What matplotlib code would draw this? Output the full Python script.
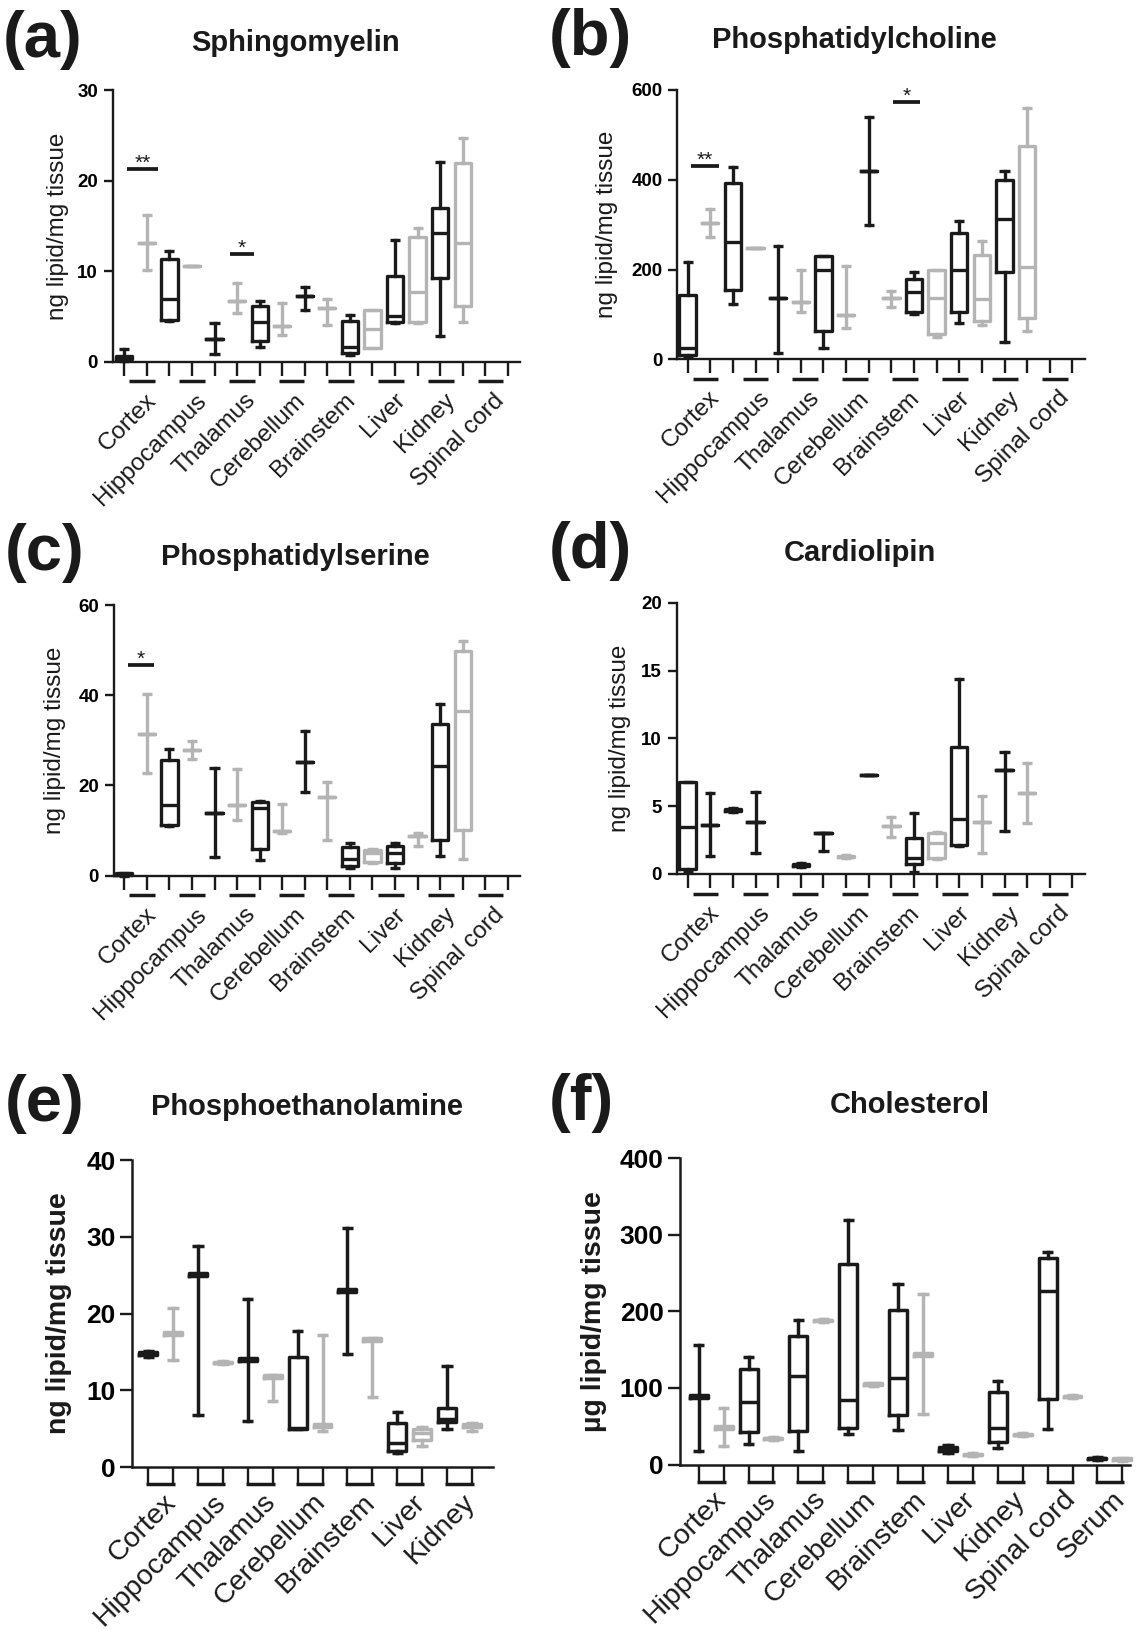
import matplotlib
matplotlib.use("Agg")
import matplotlib.pyplot as plt
import matplotlib.transforms as mtransforms
import numpy as np

plt.rcParams['font.family'] = ['Liberation Sans', 'DejaVu Sans']

BLACK = '#1a1a1a'
GREY = '#b4b4b4'

TISSUES = ['Cortex', 'Hippocampus', 'Thalamus', 'Cerebellum', 'Brainstem',
           'Liver', 'Kidney', 'Spinal cord']
TISSUES_PE = TISSUES[:7]
TISSUES_CH = TISSUES + ['Serum']

# each box: (min, q1, median, q3, max); order per tissue: black group, grey group
SM_STATS = [(0.05, 0.3, 0.45, 0.6, 1.35), (10.1, 13.1, 13.1, 13.1, 16.2),
            (4.5, 4.6, 6.9, 11.3, 12.2), (10.6, 10.6, 10.6, 10.6, 10.6),
            (0.8, 2.5, 2.5, 2.5, 4.3), (5.4, 6.7, 6.7, 6.7, 8.7),
            (1.6, 2.3, 4.35, 6.2, 6.75), (2.9, 3.9, 3.9, 3.9, 6.5),
            (5.7, 7.2, 7.2, 7.2, 8.3), (4.1, 5.9, 5.9, 5.9, 6.9),
            (0.7, 0.9, 1.6, 4.5, 5.1), (1.5, 1.5, 3.6, 5.7, 5.7),
            (4.25, 4.35, 5.0, 9.5, 13.5), (4.25, 4.35, 7.7, 13.8, 14.8),
            (2.8, 9.2, 14.2, 17.0, 22.1), (4.35, 6.2, 13.1, 22.0, 24.7)]

PC_STATS = [(5, 10, 25, 143, 217), (272, 303, 303, 303, 334),
            (123, 154, 262, 392, 429), (247, 247, 247, 247, 247),
            (15, 136, 136, 136, 252), (106, 128, 128, 128, 198),
            (25, 63, 200, 230, 231), (69, 99, 99, 99, 208),
            (299, 420, 420, 420, 539), (116, 137, 137, 137, 152),
            (102, 105, 149, 180, 195), (50, 56, 136, 200, 200),
            (80, 106, 199, 281, 309), (76, 86, 134, 232, 264),
            (38, 195, 313, 400, 420), (62, 91, 206, 476, 561)]

PS_STATS = [(0, 0.1, 0.3, 0.5, 0.7), (22.7, 31.4, 31.4, 31.4, 40.3),
            (11.0, 11.2, 15.7, 25.6, 28), (25.8, 27.9, 27.9, 27.9, 29.9),
            (4.2, 14, 14, 14, 23.8), (12.3, 15.7, 15.7, 15.7, 23.6),
            (3.5, 5.9, 14.9, 16.4, 16.6), (9.5, 10, 10, 10, 16),
            (18.6, 25.3, 25.3, 25.3, 32.1), (7.9, 17.5, 17.5, 17.5, 20.8),
            (1.8, 2.1, 3.8, 6.4, 7.2), (2.9, 3.1, 5.0, 5.7, 6.0),
            (1.6, 2.9, 5.0, 6.6, 7.2), (6.6, 8.8, 8.8, 8.8, 9.5),
            (4.4, 7.9, 24.3, 33.6, 38.1), (3.6, 10.1, 36.6, 49.8, 52)]

CL_STATS = [(0.15, 0.35, 3.5, 6.8, 6.8), (1.33, 3.6, 3.6, 3.6, 5.95),
            (4.55, 4.62, 4.7, 4.78, 4.85), (1.52, 3.8, 3.8, 3.8, 6.07),
            None, (0.5, 0.58, 0.66, 0.74, 0.84),
            (1.72, 3.0, 3.0, 3.0, 3.05), (1.2, 1.25, 1.28, 1.32, 1.4),
            (7.3, 7.3, 7.3, 7.3, 7.3), (2.75, 3.54, 3.54, 3.54, 4.18),
            (0.17, 0.74, 1.15, 2.63, 4.47), (1.08, 1.15, 2.26, 3.05, 3.12),
            (2.09, 2.14, 4.03, 9.34, 14.4), (1.52, 3.86, 3.86, 3.86, 5.77),
            (3.19, 7.7, 7.7, 7.7, 9.0), (3.73, 5.95, 5.95, 5.95, 8.16)]
CL_COLORS = ['k', 'k', 'k', 'k', None, 'k', 'k', 'g',
             'k', 'g', 'k', 'g', 'k', 'g', 'k', 'g']

PE_STATS = [(14.4, 14.6, 14.8, 15.0, 15.1), (14.0, 17.2, 17.4, 17.6, 20.7),
            (6.8, 24.9, 25.1, 25.3, 28.8), (13.4, 13.5, 13.6, 13.7, 13.8),
            (6.0, 13.8, 14.0, 14.2, 21.9), (8.6, 11.6, 11.8, 12.0, 12.0),
            (5.0, 5.0, 5.1, 14.3, 17.7), (4.7, 5.2, 5.4, 5.6, 17.2),
            (14.7, 22.8, 23.0, 23.2, 31.1), (9.1, 16.4, 16.6, 16.8, 16.8),
            (1.9, 2.1, 3.2, 5.7, 7.2), (2.7, 3.5, 4.4, 5.0, 5.2),
            (5.0, 5.9, 6.2, 7.7, 13.2), (4.7, 5.2, 5.4, 5.6, 5.8)]

CH_STATS = [(17, 87, 89, 91, 156), (24, 46, 48, 50, 74),
            (27, 43, 81, 124, 140), (32, 33, 34, 35, 36),
            (18, 44, 115, 168, 188), (186, 187, 188, 189, 190),
            (40, 48, 84, 262, 319), (103, 104, 105, 106, 107),
            (45, 64, 113, 201, 235), (66, 141, 143, 145, 223),
            (15, 17, 20, 23, 26), (11, 12, 13, 14, 15),
            (22, 29, 47.5, 94, 109), (37, 38, 39, 40, 41),
            (46, 85, 227, 269, 277), (87, 88, 89, 90, 91),
            (6, 7, 8, 9, 10), (5, 6, 7, 8, 9)]

# significance bars: (x from, x to, y, text)
SM_SIG = [(0.11, 1.49, 21.3, '**'), (4.7, 5.73, 11.9, '*')]
PC_SIG = [(0.16, 1.39, 431, '**'), (9.07, 10.28, 573, '*')]
PS_SIG = [(0.16, 1.33, 46.7, '*')]

W, H, DPI = 1140, 1630, 100
fig = plt.figure(figsize=(W / DPI, H / DPI), dpi=DPI)


def shift(ax, dx, dy):
    return ax.get_xaxis_transform() + mtransforms.ScaledTranslation(
        dx / DPI, dy / DPI, fig.dpi_scale_trans)


def draw_panel(p):
    left, right, y0, ytop = p['rect']
    ax = fig.add_axes([left / W, 1 - y0 / H, (right - left) / W, (y0 - ytop) / H])
    tick0, step = p['ticks']
    nt = p['nticks']
    ax.set_xlim((left - tick0) / step, (right - tick0) / step)
    ax.set_ylim(0, p['ymax'])
    big = p['big']
    lw = 2.5 if big else 2.4

    stats = p['stats']
    colors = p.get('colors') or ['k' if i % 2 == 0 else 'g' for i in range(len(stats))]
    for i, (s, c) in enumerate(zip(stats, colors)):
        if s is None:
            continue
        lo, q1, med, q3, hi = s
        col = BLACK if c == 'k' else GREY
        st = dict(whislo=lo, q1=q1, med=med, q3=q3, whishi=hi, fliers=[])
        arts = ax.bxp([st], positions=[i], widths=0.72, capwidths=0.45,
                      showfliers=False, manage_ticks=False,
                      boxprops=dict(color=col, lw=lw),
                      medianprops=dict(color=col, lw=lw, solid_capstyle='butt'),
                      whiskerprops=dict(color=col, lw=lw),
                      capprops=dict(color=col, lw=lw, solid_capstyle='butt'))
        for group in arts.values():
            for a in group:
                a.set_clip_on(False)

    for sp in ['top', 'right']:
        ax.spines[sp].set_visible(False)
    for sp in ['left', 'bottom']:
        ax.spines[sp].set_linewidth(1.8 if big else 1.7)
        ax.spines[sp].set_color(BLACK)

    ax.set_xticks(range(nt))
    ax.set_xticklabels([])
    ax.set_yticks(p['yticks'])
    ax.set_yticklabels([str(v) for v in p['yticks']], fontweight='bold',
                       fontsize=19 if big else 13.5)
    ax.tick_params(axis='x', length=12.2 if big else 10, width=1.7, color=BLACK)
    ax.tick_params(axis='y', length=9 if big else 6.5, width=1.7, color=BLACK,
                   pad=3 if big else 4)

    names = p['names']
    if big:
        ul = 17
        centers = [2 * i + 0.5 for i in range(len(names))]
        for c in centers:
            ax.plot([c - 0.58, c + 0.58], [0, 0], transform=shift(ax, 0, -ul),
                    color=BLACK, lw=2.5, solid_capstyle='butt', clip_on=False)
        for c, n in zip(centers, names):
            ax.text(c, 0, n, transform=shift(ax, 2, -ul - 5), rotation=45,
                    ha='right', va='top', rotation_mode='anchor', fontsize=20.5,
                    color=BLACK)
    else:
        ul = 19.7
        centers = [0.79 + 2.206 * i for i in range(len(names))]
        for c in centers:
            ax.plot([c - 0.57, c + 0.57], [0, 0], transform=shift(ax, 0, -ul),
                    color=BLACK, lw=2.5, solid_capstyle='butt', clip_on=False)
        for c, n in zip(centers, names):
            ax.text(c, 0, n, transform=shift(ax, 3, -ul - 8), rotation=45,
                    ha='right', va='top', rotation_mode='anchor', fontsize=17.5,
                    color=BLACK)

    for x0, x1, y, txt in p.get('sig', []):
        ax.plot([x0, x1], [y, y], color=BLACK, lw=2.7, solid_capstyle='butt',
                clip_on=False)
        ax.text((x0 + x1) / 2, y, txt, ha='center', va='baseline', fontsize=15,
                color=BLACK)

    # y label, title, panel letter
    ymid = (y0 + ytop) / 2
    fig.text(p['ylab_x'] / W, 1 - ymid / H, p['ylabel'], rotation=90,
             ha='center', va='center', fontsize=20.5 if big else 17.5,
             fontweight='bold' if big else 'normal', color=BLACK)
    tx, ty = p['title_xy']
    fig.text(tx / W, 1 - ty / H, p['title'], ha='center', va='center',
             fontsize=21, fontweight='bold', color=BLACK)
    lx, ly = p['letter_xy']
    fig.text(lx / W, 1 - ly / H, p['letter'], ha='left', va='center',
             fontsize=47, fontweight='bold', color=BLACK)
    return ax


NG = 'ng lipid/mg tissue'
panels = [
    dict(stats=SM_STATS, names=TISSUES, sig=SM_SIG, ymax=30, yticks=[0, 10, 20, 30],
         rect=(112.7, 519.6, 361.6, 90.3), ticks=(124.3, 22.56), nticks=18, big=False,
         ylabel=NG, ylab_x=58, title='Sphingomyelin', title_xy=(296, 43),
         letter='(a)', letter_xy=(3, 40)),
    dict(stats=PC_STATS, names=TISSUES, sig=PC_SIG, ymax=600, yticks=[0, 200, 400, 600],
         rect=(677, 1085, 359.3, 90), ticks=(687.6, 22.64), nticks=18, big=False,
         ylabel=NG, ylab_x=607, title='Phosphatidylcholine', title_xy=(854, 40),
         letter='(b)', letter_xy=(549, 38)),
    dict(stats=PS_STATS, names=TISSUES, sig=PS_SIG, ymax=60, yticks=[0, 20, 40, 60],
         rect=(113.6, 519.6, 875.7, 605), ticks=(124.3, 22.56), nticks=18, big=False,
         ylabel=NG, ylab_x=55, title='Phosphatidylserine', title_xy=(295, 557),
         letter='(c)', letter_xy=(5, 553)),
    dict(stats=CL_STATS, colors=CL_COLORS, names=TISSUES, ymax=20,
         yticks=[0, 5, 10, 15, 20],
         rect=(676.5, 1085, 874, 602.7), ticks=(687.6, 22.64), nticks=18, big=False,
         ylabel=NG, ylab_x=620, title='Cardiolipin', title_xy=(860, 553),
         letter='(d)', letter_xy=(549, 551)),
    dict(stats=PE_STATS, names=TISSUES_PE, ymax=40, yticks=[0, 10, 20, 30, 40],
         rect=(132.1, 492.9, 1467.1, 1160), ticks=(148.2, 24.9), nticks=14, big=True,
         ylabel=NG, ylab_x=59, title='Phosphoethanolamine', title_xy=(307, 1107),
         letter='(e)', letter_xy=(5, 1104)),
    dict(stats=CH_STATS, names=TISSUES_CH, ymax=400, yticks=[0, 100, 200, 300, 400],
         rect=(680.2, 1130, 1464.5, 1158), ticks=(698.7, 24.92), nticks=18, big=True,
         ylabel='µg lipid/mg tissue', ylab_x=594, title='Cholesterol',
         title_xy=(910, 1105), letter='(f)', letter_xy=(549, 1103)),
]

for p in panels:
    draw_panel(p)

fig.savefig('out.png', dpi=DPI, facecolor='white')
